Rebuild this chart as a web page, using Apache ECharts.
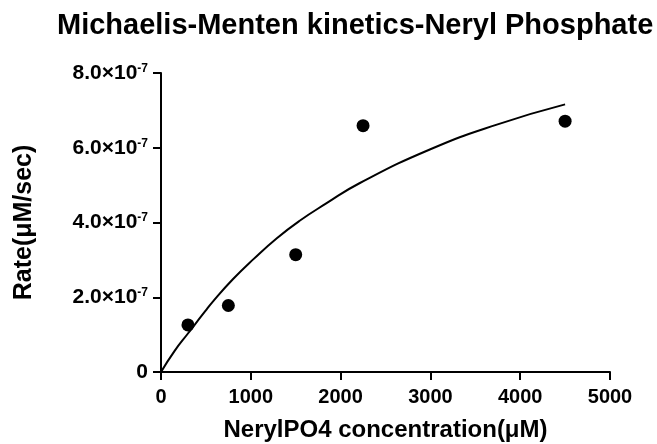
<!DOCTYPE html>
<html>
<head>
<meta charset="utf-8">
<script src="https://cdn.jsdelivr.net/npm/echarts@6/dist/echarts.min.js"></script>
<style>
  html, body { margin: 0; padding: 0; background: #fff; }
  #chart { width: 657px; height: 444px; }
</style>
</head>
<body>
<div id="chart"></div>
<script>
// measured points (NerylPO4 uM, rate uM/sec)
var substrateConc = [300, 750, 1500, 2250, 4500];
var rateValues = [1.26e-7, 1.78e-7, 3.14e-7, 6.59e-7, 6.71e-7];

// fitted curve
var fitConc = [0, 150, 300, 490, 580, 800, 1030, 1290, 1540, 1840, 2210, 3000, 3740, 4500];
var fitRate = [0, 0.56e-7, 1.03e-7, 1.62e-7, 1.89e-7, 2.48e-7, 3.02e-7, 3.58e-7, 4.04e-7,
               4.51e-7, 5.05e-7, 5.96e-7, 6.62e-7, 7.16e-7];

var xTicks = [0, 1000, 2000, 3000, 4000, 5000];
var yTicks = [0, 2e-7, 4e-7, 6e-7, 8e-7];

var FONT = 'Liberation Sans';

function pairs(xs, ys) {
    var out = [];
    for (var i = 0; i < xs.length; i++) out.push([xs[i], ys[i]]);
    return out;
}

var chart = echarts.init(document.getElementById('chart'));
chart.setOption({
    animation: false,
    title: {
        text: 'Michaelis-Menten kinetics-Neryl Phosphate',
        left: 52,
        top: 6,
        textStyle: { fontFamily: FONT, fontWeight: 'bold', fontSize: 29, color: '#000' }
    },
    grid: { left: 161, right: 47, top: 73, bottom: 72, containLabel: false, outerBoundsMode: 'none' },
    xAxis: {
        type: 'value',
        min: xTicks[0],
        max: xTicks[xTicks.length - 1],
        interval: 1000,
        name: 'NerylPO4 concentration(\u03bcM)',
        nameLocation: 'middle',
        nameGap: 46,
        nameTextStyle: { fontFamily: FONT, fontWeight: 'bold', fontSize: 24, color: '#000' },
        axisLine: { lineStyle: { color: '#000', width: 2 } },
        axisTick: { length: 8, lineStyle: { color: '#000', width: 2 } },
        axisLabel: {
            fontFamily: FONT, fontWeight: 'bold', fontSize: 20, color: '#000', margin: 15,
            formatter: function (v) { return String(v); }
        },
        splitLine: { show: false }
    },
    yAxis: {
        type: 'value',
        min: yTicks[0],
        max: yTicks[yTicks.length - 1],
        interval: 2e-7,
        name: 'Rate(\u03bcM/sec)',
        nameLocation: 'middle',
        nameGap: 124,
        nameTextStyle: { fontFamily: FONT, fontWeight: 'bold', fontSize: 25, color: '#000' },
        axisLine: { show: true, lineStyle: { color: '#000', width: 2 } },
        axisTick: { show: true, length: 8, lineStyle: { color: '#000', width: 2 } },
        axisLabel: {
            margin: 13,
            color: '#000',
            formatter: function (v) {
                if (v === 0) return '{b|0}';
                return '{b|' + (v * 1e7).toFixed(1) + '\u00d710}{s|-7}';
            },
            rich: {
                b: { fontFamily: FONT, fontWeight: 'bold', fontSize: 21, lineHeight: 21, color: '#000' },
                s: { fontFamily: FONT, fontWeight: 'bold', fontSize: 12, lineHeight: 12, verticalAlign: 'top', color: '#000' }
            }
        },
        splitLine: { show: false }
    },
    series: [
        {
            type: 'line',
            data: pairs(fitConc, fitRate),
            smooth: true,
            showSymbol: false,
            lineStyle: { color: '#000', width: 2 },
            z: 2
        },
        {
            type: 'scatter',
            data: pairs(substrateConc, rateValues),
            symbol: 'circle',
            symbolSize: 13,
            itemStyle: { color: '#000', opacity: 1 },
            z: 3
        }
    ]
});
</script>
</body>
</html>
